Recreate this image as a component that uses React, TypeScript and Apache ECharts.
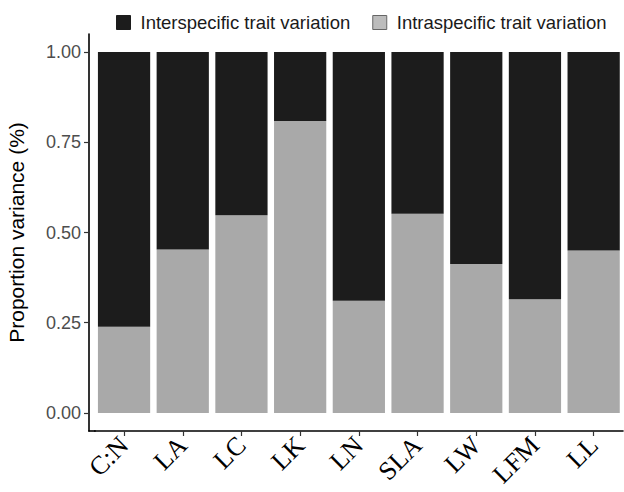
import React, { useEffect, useRef } from "react";
import * as echarts from "echarts";

const categories = ["C:N", "LA", "LC", "LK", "LN", "SLA", "LW", "LFM", "LL"];
const intraspecific = [0.239, 0.453, 0.548, 0.809, 0.311, 0.552, 0.413, 0.315, 0.45];
const interspecific = [0.761, 0.547, 0.452, 0.191, 0.689, 0.448, 0.587, 0.685, 0.55];
const yTicks = [0, 0.25, 0.5, 0.75, 1];
const seriesNames = ["Interspecific trait variation", "Intraspecific trait variation"];

export default function App() {
  const ref = useRef<HTMLDivElement>(null);
  useEffect(() => {
    if (!ref.current) return;
    const chart = echarts.init(ref.current, null, { renderer: "svg" });
    const sans = "Liberation Sans, Arial, sans-serif";
    const gridLeft = 94.7;
    const gridBottom = 61;
    chart.setOption({
      animation: false,
      backgroundColor: "#ffffff",
      grid: {
        left: gridLeft,
        right: 1,
        top: 34,
        bottom: gridBottom,
        containLabel: false,
        outerBoundsMode: "none",
      },
      legend: {
        left: 111,
        top: 8,
        itemWidth: 14,
        itemHeight: 14,
        itemGap: 22,
        icon: "rect",
        textStyle: { fontFamily: sans, fontSize: 18.5, color: "#1a1a1a", padding: [0, 0, 0, 5] },
        data: [
          { name: seriesNames[0], itemStyle: { color: "#1c1c1c", borderColor: "#1c1c1c", borderWidth: 1 } },
          { name: seriesNames[1], itemStyle: { color: "#bcbcbc", borderColor: "#666666", borderWidth: 1 } },
        ],
      },
      graphic: [
        {
          type: "line",
          shape: { x1: 88.3, y1: 492 - gridBottom, x2: gridLeft + 1, y2: 492 - gridBottom },
          style: { stroke: "#000000", lineWidth: 1.6 },
          z: 10,
        },
      ],
      xAxis: {
        type: "category",
        data: categories,
        boundaryGap: true,
        splitLine: { show: false },
        axisLine: { show: true, onZero: false, lineStyle: { color: "#000000", width: 1.6 } },
        axisTick: { show: true, length: 5, alignWithLabel: true, lineStyle: { color: "#333333", width: 1.2 } },
        axisLabel: {
          rotate: 45,
          margin: 10,
          interval: 0,
          fontFamily: "Liberation Serif, Times New Roman, serif",
          fontSize: 26,
          color: "#000000",
        },
      },
      yAxis: {
        type: "value",
        min: -0.05,
        max: 1.05,
        offset: gridLeft - 89,
        name: "Proportion variance (%)",
        nameLocation: "middle",
        nameGap: 62,
        nameTextStyle: { fontFamily: sans, fontSize: 21, color: "#000000" },
        splitLine: { show: false },
        axisLine: { show: true, lineStyle: { color: "#000000", width: 1.6 } },
        axisTick: { show: true, length: 5, customValues: yTicks, lineStyle: { color: "#333333", width: 1.2 } },
        axisLabel: {
          customValues: yTicks,
          margin: 8,
          fontFamily: sans,
          fontSize: 18,
          color: "#4d4d4d",
          formatter: (v: number) => v.toFixed(2),
        },
      },
      series: [
        {
          name: seriesNames[1],
          type: "bar",
          stack: "total",
          barWidth: "89%",
          itemStyle: { color: "#a9a9a9" },
          data: intraspecific,
        },
        {
          name: seriesNames[0],
          type: "bar",
          stack: "total",
          barWidth: "89%",
          itemStyle: { color: "#1c1c1c" },
          data: interspecific,
        },
      ],
    });
    return () => chart.dispose();
  }, []);
  return <div ref={ref} style={{ position: "fixed", left: 0, top: 0, width: 624, height: 492 }} />;
}
